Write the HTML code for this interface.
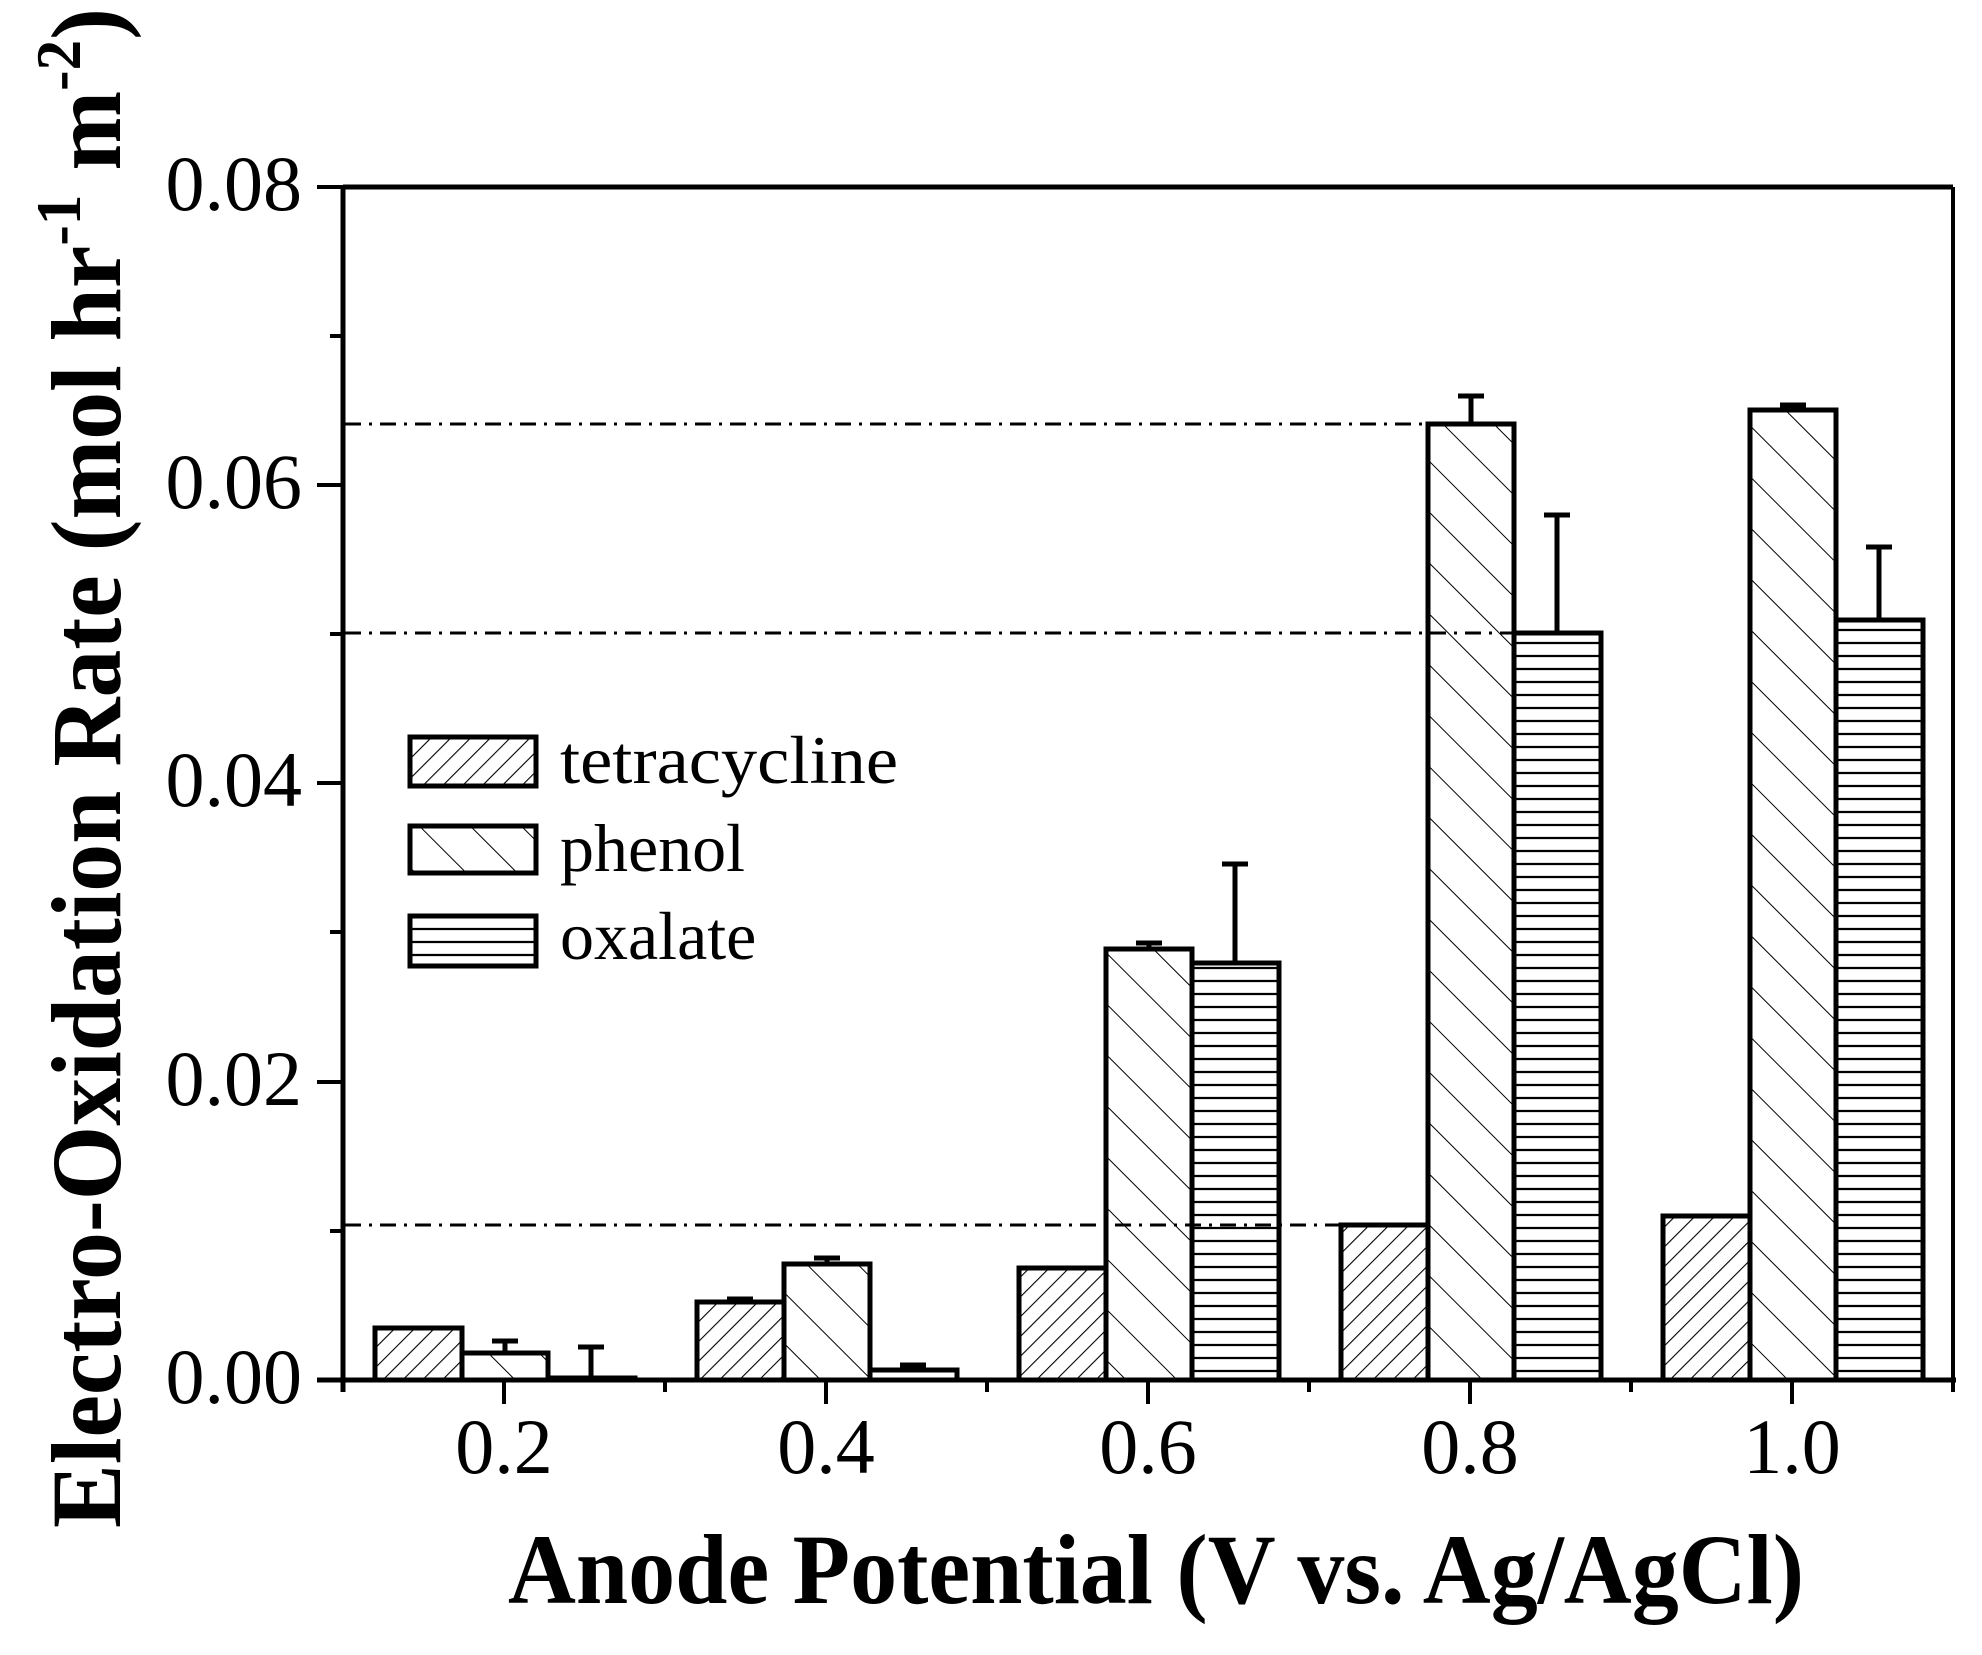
<!DOCTYPE html>
<html><head><meta charset="utf-8"><style>html,body{margin:0;padding:0;background:#fff}svg{display:block}</style></head>
<body>
<svg width="1982" height="1655" viewBox="0 0 1982 1655" xmlns="http://www.w3.org/2000/svg">
<defs>
<pattern id="pT" patternUnits="userSpaceOnUse" width="14" height="14" patternTransform="rotate(45)">
<line x1="0" y1="0" x2="0" y2="14" stroke="#000" stroke-width="2.2"/></pattern>
<pattern id="pP" patternUnits="userSpaceOnUse" width="36" height="36" patternTransform="rotate(-45)">
<line x1="0" y1="0" x2="0" y2="36" stroke="#000" stroke-width="2"/></pattern>
<pattern id="pO" patternUnits="userSpaceOnUse" width="20" height="13">
<line x1="0" y1="6" x2="20" y2="6" stroke="#000" stroke-width="2.2"/></pattern>
</defs>
<g font-family="Liberation Serif, serif" fill="#000">
<g stroke="#000" stroke-width="3" stroke-dasharray="16 8 3 8" fill="none">
<line x1="345" y1="424" x2="1470" y2="424"/>
<line x1="345" y1="633" x2="1557" y2="633"/>
<line x1="345" y1="1225" x2="1384" y2="1225"/>
</g>
<g stroke="#000" stroke-width="5">
<rect x="375" y="1328" width="87" height="52" fill="url(#pT)"/>
<rect x="462" y="1353" width="86" height="27" fill="url(#pP)"/>
<rect x="548" y="1378" width="87" height="2" fill="url(#pO)"/>
<rect x="697" y="1302" width="87" height="78" fill="url(#pT)"/>
<rect x="784" y="1264" width="86" height="116" fill="url(#pP)"/>
<rect x="870" y="1370" width="87" height="10" fill="url(#pO)"/>
<rect x="1019" y="1268" width="87" height="112" fill="url(#pT)"/>
<rect x="1106" y="949" width="86" height="431" fill="url(#pP)"/>
<rect x="1192" y="963" width="87" height="417" fill="url(#pO)"/>
<rect x="1341" y="1225" width="87" height="155" fill="url(#pT)"/>
<rect x="1428" y="424" width="86" height="956" fill="url(#pP)"/>
<rect x="1514" y="633" width="87" height="747" fill="url(#pO)"/>
<rect x="1663" y="1216" width="87" height="164" fill="url(#pT)"/>
<rect x="1750" y="410" width="86" height="970" fill="url(#pP)"/>
<rect x="1836" y="620" width="87" height="760" fill="url(#pO)"/>
</g>
<g stroke="#000" stroke-width="5">
<line x1="505" y1="1353" x2="505" y2="1341"/><line x1="492" y1="1341" x2="518" y2="1341"/>
<line x1="591" y1="1378" x2="591" y2="1347"/><line x1="578" y1="1347" x2="604" y2="1347"/>
<line x1="740" y1="1302" x2="740" y2="1299"/><line x1="727" y1="1299" x2="753" y2="1299"/>
<line x1="827" y1="1264" x2="827" y2="1258"/><line x1="814" y1="1258" x2="840" y2="1258"/>
<line x1="913" y1="1370" x2="913" y2="1365"/><line x1="900" y1="1365" x2="926" y2="1365"/>
<line x1="1149" y1="949" x2="1149" y2="943"/><line x1="1136" y1="943" x2="1162" y2="943"/>
<line x1="1235" y1="963" x2="1235" y2="864"/><line x1="1222" y1="864" x2="1248" y2="864"/>
<line x1="1471" y1="424" x2="1471" y2="396"/><line x1="1458" y1="396" x2="1484" y2="396"/>
<line x1="1557" y1="633" x2="1557" y2="515"/><line x1="1544" y1="515" x2="1570" y2="515"/>
<line x1="1793" y1="410" x2="1793" y2="405"/><line x1="1780" y1="405" x2="1806" y2="405"/>
<line x1="1879" y1="620" x2="1879" y2="547"/><line x1="1866" y1="547" x2="1892" y2="547"/>
</g>
<g stroke="#000" fill="none">
<line x1="343" y1="187" x2="1953" y2="187" stroke-width="5"/>
<line x1="1953" y1="187" x2="1953" y2="1380" stroke-width="4"/>
<line x1="343" y1="185" x2="343" y2="1392" stroke-width="5"/>
<line x1="317" y1="1380" x2="1956" y2="1380" stroke-width="5"/>
</g>
<g stroke="#000" stroke-width="4">
<line x1="317" y1="187" x2="343" y2="187"/><line x1="330" y1="336" x2="343" y2="336"/>
<line x1="317" y1="485" x2="343" y2="485"/><line x1="330" y1="634" x2="343" y2="634"/>
<line x1="317" y1="783" x2="343" y2="783"/><line x1="330" y1="932" x2="343" y2="932"/>
<line x1="317" y1="1082" x2="343" y2="1082"/><line x1="330" y1="1231" x2="343" y2="1231"/>
</g>
<g stroke="#000" stroke-width="4">
<line x1="504" y1="1380" x2="504" y2="1404"/><line x1="826" y1="1380" x2="826" y2="1404"/>
<line x1="1148" y1="1380" x2="1148" y2="1404"/><line x1="1470" y1="1380" x2="1470" y2="1404"/>
<line x1="1792" y1="1380" x2="1792" y2="1404"/>
<line x1="665" y1="1380" x2="665" y2="1392"/><line x1="987" y1="1380" x2="987" y2="1392"/>
<line x1="1309" y1="1380" x2="1309" y2="1392"/><line x1="1631" y1="1380" x2="1631" y2="1392"/>
<line x1="1953" y1="1380" x2="1953" y2="1392"/>
</g>
<g font-size="78" text-anchor="end">
<text x="302" y="210">0.08</text>
<text x="302" y="508">0.06</text>
<text x="302" y="806">0.04</text>
<text x="302" y="1105">0.02</text>
<text x="302" y="1403">0.00</text>
</g>
<g font-size="78" text-anchor="middle">
<text x="504" y="1473">0.2</text>
<text x="826" y="1473">0.4</text>
<text x="1148" y="1473">0.6</text>
<text x="1470" y="1473">0.8</text>
<text x="1792" y="1473">1.0</text>
</g>
<g stroke="#000" stroke-width="5">
<rect x="410" y="737" width="126" height="49" fill="url(#pT)"/>
<rect x="410" y="826" width="126" height="47" fill="url(#pP)"/>
<rect x="410" y="916" width="126" height="50" fill="url(#pO)"/>
</g>
<g font-size="68">
<text x="560" y="783" textLength="338" lengthAdjust="spacingAndGlyphs">tetracycline</text>
<text x="560" y="871">phenol</text>
<text x="560" y="959">oxalate</text>
</g>
<text x="508" y="1603" font-size="100" font-weight="bold" textLength="1296" lengthAdjust="spacingAndGlyphs">Anode Potential (V vs. Ag/AgCl)</text>
<text transform="translate(120,1528) rotate(-90)" font-size="100" font-weight="bold" textLength="1520" lengthAdjust="spacingAndGlyphs">Electro-Oxidation Rate (mol hr<tspan dy="-40" font-size="64">-1</tspan><tspan dy="40"> m</tspan><tspan dy="-40" font-size="64">-2</tspan><tspan dy="40">)</tspan></text>
</g>
</svg>
</body></html>
